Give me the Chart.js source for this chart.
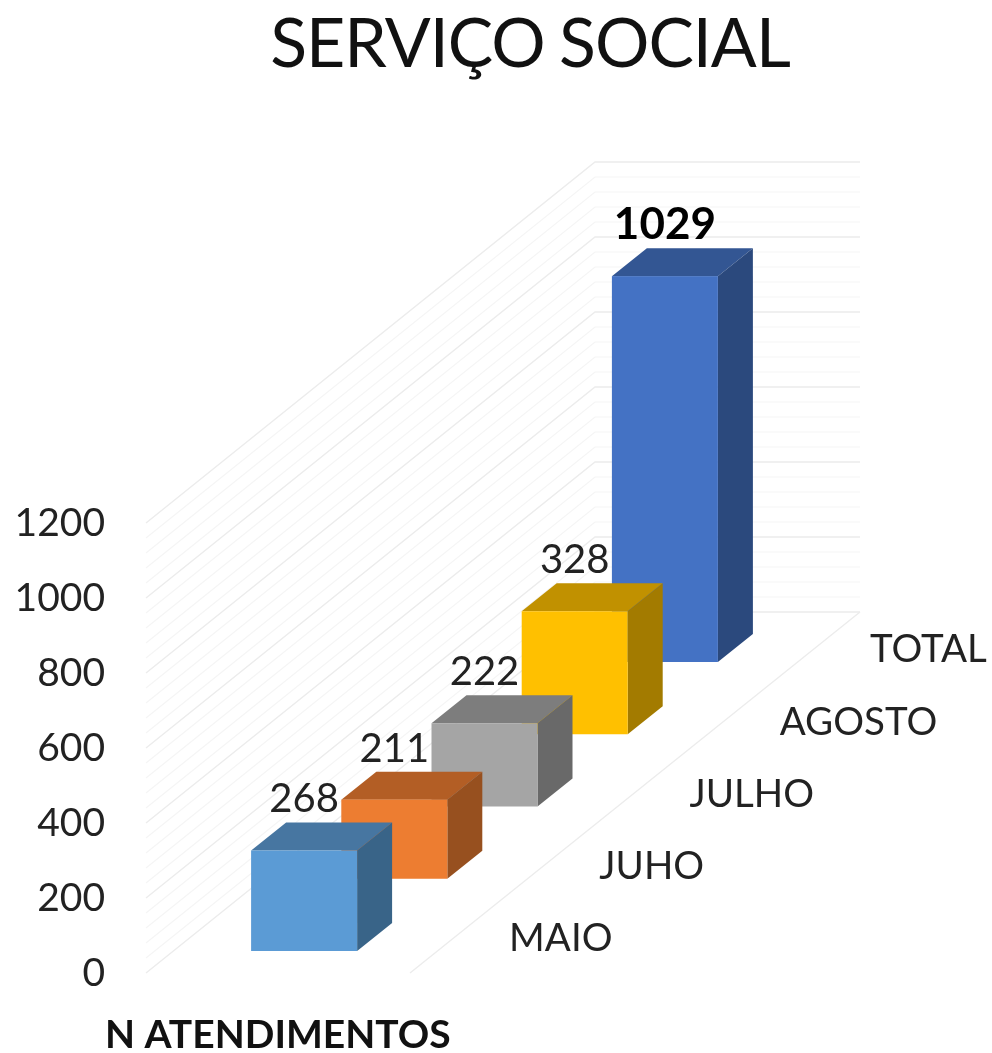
<!DOCTYPE html>
<html lang="pt">
<head>
<meta charset="utf-8">
<title>Serviço Social</title>
<script src="https://cdn.jsdelivr.net/npm/chart.js@4/dist/chart.umd.min.js"></script>
<style>html,body{margin:0;padding:0;background:#fff}canvas{display:block}</style>
</head>
<body>
<canvas id="c" width="992" height="1053"></canvas>
<script>
const chartTitle = 'SERVIÇO SOCIAL';
const seriesName = 'N ATENDIMENTOS';
const categories = ['MAIO', 'JUHO', 'JULHO', 'AGOSTO', 'TOTAL'];
const values = [268, 211, 222, 328, 1029];
const frontColors = ['#5B9BD5', '#ED7D31', '#A5A5A5', '#FFC000', '#4472C4'];
const topColors = ['#4776A1', '#B35E25', '#7D7D7D', '#C19100', '#335693'];
const sideColors = ['#396488', '#97501F', '#696969', '#A37B00', '#2B497D'];
const boldLabels = [false, false, false, false, true];

const FONT = 'Lato, "Open Sans", sans-serif';
const INK = '#222222';
// projection of the 3D box
const DEPTH_X = 35, DEPTH_Y = 28;      // bar depth
const STEP_Y = 72.25;                  // floor rise per category
const FRONT_INSET = 22;                // gap floor front -> first bar
const WALL = {left: 146, backX: 595, backDY: 361, right: 860};
const FLOOR_RIGHT = 410;

const threeD = {
  id: 'threeD',
  beforeDatasetsDraw(chart) {
    const {ctx, scales: {y}} = chart;
    // walls
    ctx.save();
    y.ticks.forEach(t => {
      const p = y.getPixelForValue(t.value);
      const major = t.value % 200 === 0;
      ctx.strokeStyle = major ? '#ececec' : '#f5f5f5';
      ctx.lineWidth = major ? 1.4 : 1.2;
      ctx.beginPath();
      ctx.moveTo(WALL.left, p);
      ctx.lineTo(WALL.backX, p - WALL.backDY);
      ctx.lineTo(WALL.right, p - WALL.backDY);
      ctx.stroke();
    });
    const b = y.getPixelForValue(0);
    ctx.strokeStyle = '#ececec';
    ctx.lineWidth = 1.4;
    ctx.beginPath();
    ctx.moveTo(FLOOR_RIGHT, b);
    ctx.lineTo(WALL.right, b - WALL.backDY);
    ctx.stroke();
    ctx.restore();
  },
  beforeDatasetDraw(chart, args) {
    const {ctx} = chart;
    const bars = args.meta.data;
    const n = bars.length;
    for (let i = n - 1; i >= 0; i--) {
      const el = bars[i];
      const shift = FRONT_INSET + STEP_Y * i;
      const x0 = el.x - el.width / 2, x1 = el.x + el.width / 2;
      const top = el.y - shift, base = el.base - shift;
      ctx.fillStyle = topColors[i];
      ctx.beginPath();
      ctx.moveTo(x0, top); ctx.lineTo(x0 + DEPTH_X, top - DEPTH_Y);
      ctx.lineTo(x1 + DEPTH_X, top - DEPTH_Y); ctx.lineTo(x1, top);
      ctx.closePath(); ctx.fill();
      ctx.fillStyle = sideColors[i];
      ctx.beginPath();
      ctx.moveTo(x1, top); ctx.lineTo(x1 + DEPTH_X, top - DEPTH_Y);
      ctx.lineTo(x1 + DEPTH_X, base - DEPTH_Y); ctx.lineTo(x1, base);
      ctx.closePath(); ctx.fill();
      ctx.fillStyle = frontColors[i];
      ctx.fillRect(x0, top, x1 - x0, base - top);
    }
    return false;
  },
  afterDraw(chart) {
    const {ctx, scales: {x, y}} = chart;
    const bars = chart.getDatasetMeta(0).data;
    ctx.save();
    ctx.textBaseline = 'middle';
    ctx.fillStyle = INK;
    // value labels
    ctx.textAlign = 'center';
    bars.forEach((el, i) => {
      const top = el.y - FRONT_INSET - STEP_Y * i - DEPTH_Y;
      ctx.font = boldLabels[i] ? 'bold 44px ' + FONT : '40px ' + FONT;
      ctx.fillStyle = boldLabels[i] ? '#000' : INK;
      ctx.fillText(String(values[i]), el.x, top - 23);
    });
    // category labels along the floor
    ctx.textAlign = 'left';
    ctx.fillStyle = INK;
    ctx.font = '38.5px ' + FONT;
    categories.forEach((c, i) => {
      ctx.fillText(c, x.getPixelForValue(i) + 205, y.getPixelForValue(0) - 34 - STEP_Y * i);
    });
    // series name
    ctx.font = 'bold 39px ' + FONT;
    ctx.fillStyle = '#111';
    ctx.fillText(seriesName, 105, 1035);
    // title
    ctx.textAlign = 'center';
    ctx.font = '68px ' + FONT;
    ctx.letterSpacing = '-1px';
    ctx.wordSpacing = '-2px';
    ctx.fillStyle = '#111';
    ctx.fillText(chartTitle, 530, 45);
    ctx.restore();
  }
};

new Chart(document.getElementById('c'), {
  type: 'bar',
  data: {
    labels: categories,
    datasets: [{
      label: seriesName,
      data: values,
      backgroundColor: frontColors,
      barThickness: 106
    }]
  },
  options: {
    responsive: false,
    animation: false,
    layout: {padding: {top: 523, right: 282, bottom: 80, left: 0}},
    plugins: {legend: {display: false}, title: {display: false}, tooltip: {enabled: false}},
    scales: {
      x: {
        type: 'category',
        display: false
      },
      y: {
        min: 0, max: 1200,
        afterFit(s) { s.width = 259; },
        grid: {display: false, tickLength: 154},
        border: {display: false},
        ticks: {
          stepSize: 40,
          maxTicksLimit: 40,
          autoSkip: false,
          padding: 0,
          color: INK,
          font: {family: FONT, size: 39},
          callback: v => (v % 200 === 0 ? String(v) : '')
        }
      }
    }
  },
  plugins: [threeD]
});
</script>
</body>
</html>
